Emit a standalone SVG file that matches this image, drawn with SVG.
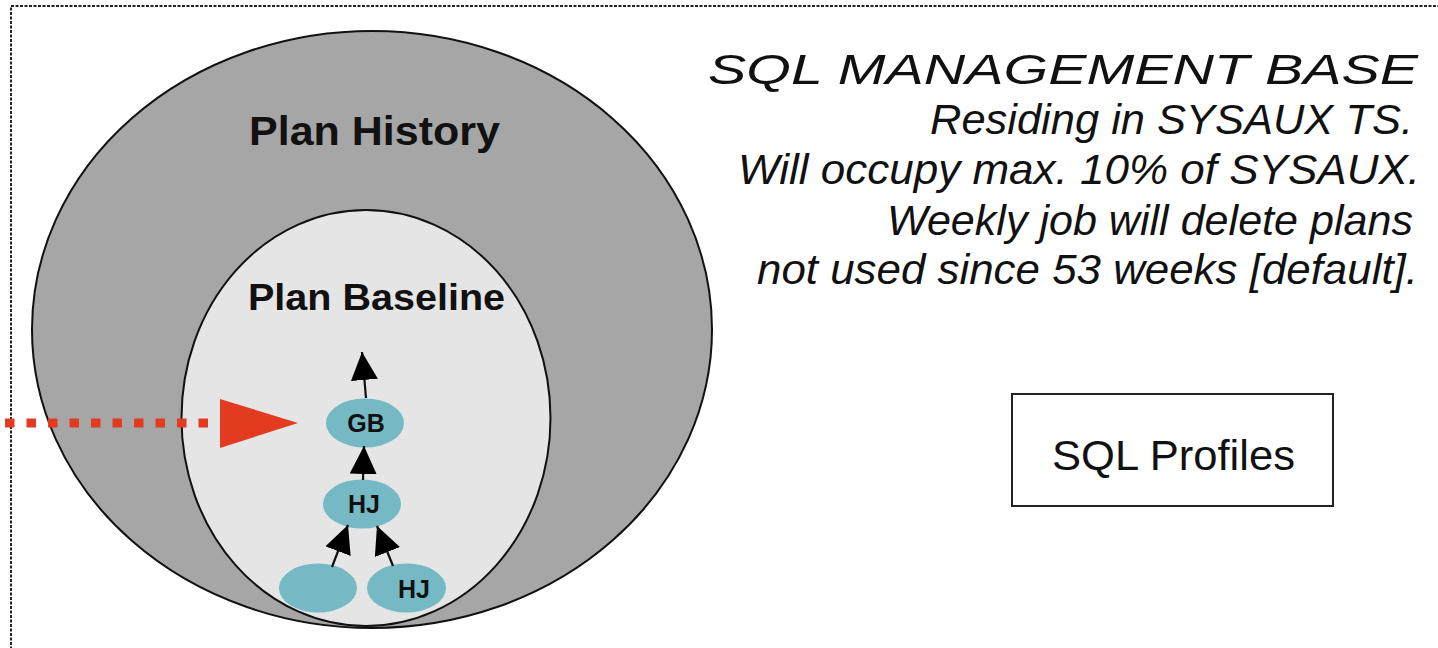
<svg xmlns="http://www.w3.org/2000/svg" width="1438" height="648" viewBox="0 0 1438 648">
<style>
.t{font-family:"Liberation Sans",Arial,sans-serif;fill:#111}
.it{font-style:italic;font-size:42px;text-anchor:end}
.bold{font-weight:bold;text-anchor:start}
.node{fill:#74B9C4}
.nl{font-family:"Liberation Sans",Arial,sans-serif;font-weight:bold;font-size:25px;text-anchor:middle;fill:#111}
.conn{stroke:#111;stroke-width:2.2;fill:none;marker-end:url(#ah)}
</style>
<defs>
<marker id="ah" markerUnits="userSpaceOnUse" markerWidth="28" markerHeight="27" refX="28" refY="13.5" orient="auto" viewBox="0 0 28 27">
<path d="M0,0 L28,13.5 L0,27 Z" fill="#000"/>
</marker>
</defs>
<rect width="1438" height="648" fill="#fff"/>
<rect id="border" x="11" y="6" width="1445" height="670" fill="none" stroke="#222" stroke-width="2" stroke-dasharray="3 1.5"/>
<g id="plan-history">
<ellipse cx="372" cy="329.5" rx="340" ry="298.5" fill="#A6A6A6" stroke="#111" stroke-width="2"/>
<text class="t bold" x="249" y="145" font-size="40" textLength="251" lengthAdjust="spacingAndGlyphs">Plan History</text>
</g>
<g id="plan-baseline">
<ellipse cx="366" cy="418" rx="184.5" ry="208" fill="#E5E5E5" stroke="#111" stroke-width="2"/>
<text class="t bold" x="248" y="310" font-size="36" textLength="257" lengthAdjust="spacingAndGlyphs">Plan Baseline</text>
</g>
<g id="sql-management-base">
<text class="t it" x="1418" y="84" font-size="54" textLength="710" lengthAdjust="spacingAndGlyphs">SQL MANAGEMENT BASE</text>
<text class="t it" x="1413" y="134" textLength="483" lengthAdjust="spacingAndGlyphs">Residing in SYSAUX TS.</text>
<text class="t it" x="1420" y="184" textLength="682" lengthAdjust="spacingAndGlyphs">Will occupy max. 10% of SYSAUX.</text>
<text class="t it" x="1413" y="235" textLength="526" lengthAdjust="spacingAndGlyphs">Weekly job will delete plans</text>
<text class="t it" x="1418" y="284" textLength="661" lengthAdjust="spacingAndGlyphs">not used since 53 weeks [default].</text>
</g>
<g id="sql-profiles">
<rect x="1012" y="394" width="321" height="112" fill="#fff" stroke="#222" stroke-width="2"/>
<text class="t" x="1052" y="470" font-size="42" textLength="243" lengthAdjust="spacingAndGlyphs">SQL Profiles</text>
</g>
<g id="node-gb">
<ellipse class="node" cx="365" cy="423" rx="39" ry="24.5"/>
<text class="nl" x="366" y="432">GB</text>
</g>
<g id="node-hj1">
<ellipse class="node" cx="362" cy="504" rx="39" ry="24.5"/>
<text class="nl" x="364" y="513">HJ</text>
</g>
<g id="node-leaf">
<ellipse class="node" cx="318" cy="588" rx="39" ry="24.5"/>
</g>
<g id="node-hj2">
<ellipse class="node" cx="406.5" cy="588" rx="39.5" ry="24.5"/>
<text class="nl" x="414" y="598">HJ</text>
</g>
<g id="connectors">
<line class="conn" x1="366" y1="398" x2="362" y2="352"/>
<line class="conn" x1="363" y1="480" x2="364" y2="446"/>
<line class="conn" x1="332" y1="567" x2="348" y2="525"/>
<line class="conn" x1="393" y1="566" x2="377" y2="526"/>
<line x1="5" y1="423" x2="212" y2="423" stroke="#E33B1F" stroke-width="9" stroke-dasharray="9.5 12"/>
<polygon points="220,399 298,423 220,448" fill="#E33B1F"/>
</g>
</svg>
